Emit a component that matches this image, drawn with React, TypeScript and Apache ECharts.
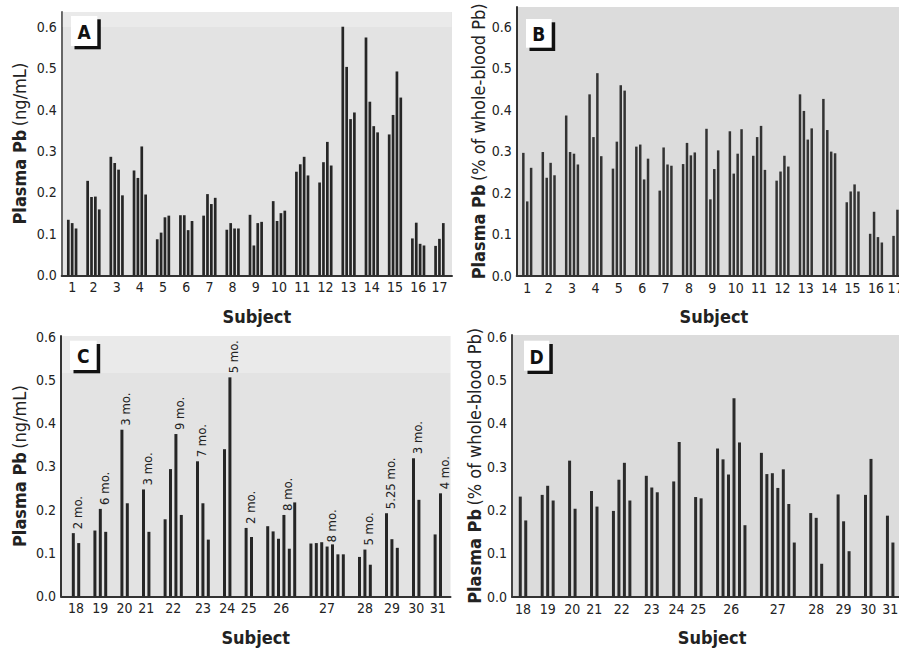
import React, { useEffect, useRef } from 'react';
import * as echarts from 'echarts';

// ---------------- data ----------------
const subjectsTop = ['1', '2', '3', '4', '5', '6', '7', '8', '9', '10', '11', '12', '13', '14', '15', '16', '17'];

// Panel A: plasma Pb (ng/mL), one array of repeated measurements per subject
const plasmaNgA = [
  [0.134, 0.126, 0.113],
  [0.228, 0.189, 0.19, 0.159],
  [0.286, 0.271, 0.255, 0.193],
  [0.253, 0.235, 0.311, 0.195],
  [0.087, 0.103, 0.14, 0.144],
  [0.145, 0.145, 0.109, 0.131],
  [0.144, 0.196, 0.172, 0.187],
  [0.11, 0.126, 0.113, 0.113],
  [0.146, 0.072, 0.126, 0.129],
  [0.179, 0.131, 0.15, 0.156],
  [0.25, 0.268, 0.286, 0.241],
  [0.224, 0.273, 0.322, 0.265],
  [0.6, 0.503, 0.377, 0.393],
  [0.574, 0.419, 0.36, 0.345],
  [0.34, 0.387, 0.492, 0.429],
  [0.089, 0.127, 0.076, 0.072],
  [0.071, 0.088, 0.126],
];

// Panel B: plasma Pb (% of whole-blood Pb)
const plasmaPctB = [
  [0.296, 0.179, 0.26],
  [0.298, 0.236, 0.272, 0.242],
  [0.386, 0.298, 0.294, 0.268],
  [0.437, 0.334, 0.488, 0.288],
  [0.258, 0.323, 0.459, 0.446],
  [0.311, 0.316, 0.232, 0.282],
  [0.205, 0.309, 0.268, 0.265],
  [0.269, 0.32, 0.29, 0.297],
  [0.354, 0.184, 0.257, 0.302],
  [0.348, 0.246, 0.294, 0.353],
  [0.289, 0.334, 0.361, 0.255],
  [0.229, 0.251, 0.289, 0.263],
  [0.437, 0.397, 0.328, 0.355],
  [0.426, 0.351, 0.299, 0.295],
  [0.177, 0.203, 0.22, 0.203],
  [0.101, 0.154, 0.093, 0.08],
  [0.096, 0.159],
];

const subjectsBottom = ['18', '19', '20', '21', '22', '23', '24', '25', '26', '27', '28', '29', '30', '31'];

// Panel C: plasma Pb (ng/mL)
const plasmaNgC = [
  [0.146, 0.123],
  [0.152, 0.202, 0.149],
  [0.385, 0.215],
  [0.247, 0.149],
  [0.178, 0.294, 0.375, 0.188],
  [0.312, 0.215, 0.131],
  [0.34, 0.506],
  [0.158, 0.137],
  [0.162, 0.15, 0.133, 0.188, 0.11, 0.217],
  [0.122, 0.123, 0.125, 0.115, 0.12, 0.097, 0.097],
  [0.091, 0.108, 0.073],
  [0.192, 0.132, 0.112],
  [0.319, 0.223],
  [0.143, 0.238],
];

// Panel D: plasma Pb (% of whole-blood Pb)
const plasmaPctD = [
  [0.231, 0.176],
  [0.235, 0.256, 0.222],
  [0.314, 0.203],
  [0.244, 0.208],
  [0.198, 0.27, 0.309, 0.222],
  [0.279, 0.252, 0.241],
  [0.266, 0.357],
  [0.23, 0.227],
  [0.342, 0.317, 0.282, 0.458, 0.356, 0.165],
  [0.332, 0.283, 0.285, 0.251, 0.294, 0.214, 0.125],
  [0.193, 0.182, 0.076],
  [0.236, 0.174, 0.105],
  [0.235, 0.318],
  [0.187, 0.125],
];

// Annotations (age) on panel C: subject, measurement index, text
const ageNoteSubjects = ['18', '19', '20', '21', '22', '23', '24', '25', '26', '27', '28', '29', '30', '31'];
const ageNoteBars = [0, 1, 0, 0, 2, 0, 1, 0, 3, 3, 1, 0, 0, 1];
const ageNoteTexts = ['2 mo.', '6 mo.', '3 mo.', '3 mo.', '9 mo.', '7 mo.', '5 mo.', '2 mo.', '8 mo.', '8 mo.', '5 mo.', '5.25 mo.', '3 mo.', '4 mo.'];

const yTickValues = [0, 0.1, 0.2, 0.3, 0.4, 0.5, 0.6];

// ---------------- styling / layout ----------------
const FONT = "'Liberation Sans Narrow', 'Arial Narrow', 'DejaVu Sans Condensed', 'Roboto', sans-serif";
const BAR = '#262626';
const TEXT = '#222';

type PanelCfg = {
  letter: string;
  subjects: string[];
  groups: number[][];
  yUnit: string;
  left: number;
  top: number;
  zeroY: number;
  unitPx: number;
  slotPx: number;
  lead: number;
  trail: number;
  bg: string;
  yAxisColor: string;
  barColor: string;
  barWidth: number;
  box: [number, number, number, number];
  yNameGap: number;
  notes?: boolean;
};

const panels: PanelCfg[] = [
  {
    letter: 'A', subjects: subjectsTop, groups: plasmaNgA, yUnit: '(ng/mL)',
    left: 61.7, top: 12, zeroY: 275.3, unitPx: 414.3, slotPx: 3.866, lead: 1.71, trail: 2.25,
    bg: '#e3e3e3', yAxisColor: '#666', barColor: BAR, barWidth: 2.7, box: [71, 16, 26.3, 30], yNameGap: 33,
  },
  {
    letter: 'B', subjects: subjectsTop, groups: plasmaPctB, yUnit: '(% of whole-blood Pb)',
    left: 516.7, top: 7, zeroY: 275.7, unitPx: 415, slotPx: 3.897, lead: 1.7, trail: 3.5,
    bg: '#dcdcdc', yAxisColor: '#333', barColor: '#333', barWidth: 2.5, box: [526, 19, 25.7, 28.7], yNameGap: 29,
  },
  {
    letter: 'C', subjects: subjectsBottom, groups: plasmaNgC, yUnit: '(ng/mL)',
    left: 61, top: 336, zeroY: 596.3, unitPx: 432.7, slotPx: 5.4, lead: 2.28, trail: 1.85,
    bg: '#e3e3e3', yAxisColor: '#333', barColor: BAR, barWidth: 3, box: [70, 340.7, 26.7, 29.3], yNameGap: 33, notes: true,
  },
  {
    letter: 'D', subjects: subjectsBottom, groups: plasmaPctD, yUnit: '(% of whole-blood Pb)',
    left: 512, top: 335, zeroY: 596.7, unitPx: 433.3, slotPx: 5.48, lead: 1.51, trail: 3.5,
    bg: '#dcdcdc', yAxisColor: '#444', barColor: '#2b2b2b', barWidth: 3, box: [524, 340.7, 25.3, 30], yNameGap: 29,
  },
];

function layoutGroups(groups: number[][]) {
  const pts: { x: number; v: number; g: number; b: number }[] = [];
  const centers: number[] = [];
  let slot = 0;
  groups.forEach((vals, g) => {
    const start = slot;
    vals.forEach((v, b) => pts.push({ x: start + b, v, g, b }));
    centers.push(start + (vals.length - 1) / 2);
    slot = start + vals.length + 2;
  });
  return { pts, centers, lastSlot: slot - 3 };
}

function buildOption() {
  const grid: any[] = [];
  const xAxis: any[] = [];
  const yAxis: any[] = [];
  const series: any[] = [];
  const graphic: any[] = [];

  panels.forEach((p, i) => {
    const { pts, centers, lastSlot } = layoutGroups(p.groups);
    const xMin = -p.lead;
    const xMax = lastSlot + p.trail;
    const width = (xMax - xMin) * p.slotPx;
    const height = p.zeroY - p.top;
    const yMax = height / p.unitPx;

    grid.push({
      left: p.left, top: p.top, width, height,
      outerBoundsMode: 'none',
      containLabel: false,
      show: true, backgroundColor: p.bg, borderWidth: 0,
    });

    xAxis.push({
      type: 'value', gridIndex: i, min: xMin, max: xMax,
      name: 'Subject', nameLocation: 'middle', nameGap: 32,
      nameTextStyle: { fontFamily: FONT, fontWeight: 'bold', fontSize: 18, color: TEXT },
      axisLine: { show: true, onZero: false, lineStyle: { color: '#333', width: 2 } },
      axisTick: { show: false },
      splitLine: { show: false },
      axisLabel: {
        customValues: centers,
        margin: 5,
        fontFamily: FONT, fontSize: 14, color: TEXT,
        formatter: (v: number) => {
          const idx = centers.findIndex((c) => Math.abs(c - v) < 1e-6);
          return idx >= 0 ? p.subjects[idx] : '';
        },
      },
    });

    yAxis.push({
      type: 'value', gridIndex: i, min: 0, max: yMax,
      name: '{b|Plasma Pb} {n|' + p.yUnit + '}',
      nameLocation: 'middle', nameGap: p.yNameGap,
      nameTextStyle: {
        fontFamily: FONT, color: TEXT,
        rich: {
          b: { fontFamily: FONT, fontWeight: 'bold', fontSize: 18, color: TEXT },
          n: { fontFamily: FONT, fontSize: 18, color: TEXT },
        },
      },
      axisLine: { show: true, onZero: false, lineStyle: { color: p.yAxisColor, width: 2 } },
      axisTick: { show: false },
      splitLine: { show: false },
      axisLabel: {
        customValues: yTickValues,
        margin: 5,
        fontFamily: FONT, fontSize: 14, color: TEXT,
        formatter: (v: number) => v.toFixed(1),
      },
    });

    const data = pts.map((pt) => {
      const item: any = { value: [pt.x, pt.v] };
      if (p.notes) {
        const subj = p.subjects[pt.g];
        const n = ageNoteSubjects.indexOf(subj);
        if (n >= 0 && ageNoteBars[n] === pt.b) {
          item.label = { show: true, formatter: ageNoteTexts[n] };
        }
      }
      return item;
    });

    series.push({
      type: 'bar', xAxisIndex: i, yAxisIndex: i,
      barWidth: p.barWidth,
      itemStyle: { color: p.barColor },
      data,
      label: {
        show: false,
        position: 'top',
        rotate: 90,
        align: 'left',
        verticalAlign: 'middle',
        distance: 4,
        offset: [0, 4],
        fontFamily: FONT, fontSize: 13, color: TEXT,
      },
    });

    const [bx, by, bw, bh] = p.box;
    graphic.push(
      { type: 'rect', z: 100, shape: { x: bx + 3.5, y: by + 3.3, width: bw, height: bh }, style: { fill: '#111' } },
      { type: 'rect', z: 101, shape: { x: bx, y: by, width: bw, height: bh }, style: { fill: '#fff' } },
      {
        type: 'text', z: 102, x: bx + bw / 2, y: by + bh / 2 + 1,
        style: { text: p.letter, fill: '#111', font: 'bold 19px ' + FONT, align: 'center', verticalAlign: 'middle' },
      },
    );
  });

  // faint lighter band at the top of panels A and C (scan shading)
  graphic.unshift(
    { type: 'rect', z: 1, shape: { x: 62.7, y: 12, width: 389, height: 15 }, style: { fill: 'rgba(255,255,255,0.25)' } },
    { type: 'rect', z: 1, shape: { x: 62, y: 336, width: 388.7, height: 37 }, style: { fill: 'rgba(255,255,255,0.25)' } },
  );

  return {
    animation: false,
    backgroundColor: '#fff',
    textStyle: { fontFamily: FONT },
    grid, xAxis, yAxis, series, graphic,
  };
}

export default function App() {
  const ref = useRef<HTMLDivElement>(null);
  useEffect(() => {
    if (!ref.current) return;
    const chart = echarts.init(ref.current, undefined, { renderer: 'svg' });
    chart.setOption(buildOption() as any);
    return () => chart.dispose();
  }, []);
  return (
    <div
      ref={ref}
      style={{ position: 'fixed', left: 0, top: 0, width: 899, height: 649, background: '#fff' }}
    />
  );
}
